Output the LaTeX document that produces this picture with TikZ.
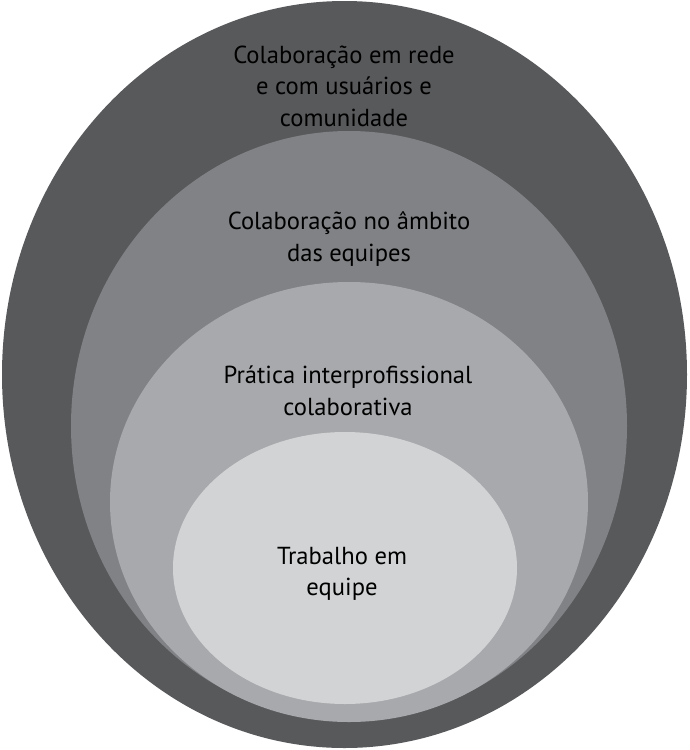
\documentclass[tikz,border=0pt]{standalone}
\usepackage{fontspec}
\setmainfont{PT Sans}
\usetikzlibrary{shapes.geometric}
\definecolor{g80}{HTML}{58595B}
\definecolor{g60}{HTML}{808285}
\definecolor{g40}{HTML}{A7A9AC}
\definecolor{g20}{HTML}{D1D3D4}
\tikzset{
  ring/.style={ellipse, inner sep=0pt, outer sep=0pt, draw=none},
  lbl/.style={align=center, font=\fontsize{24.6}{31.5}\selectfont, text=black, inner sep=0pt}
}
\begin{document}
\begin{tikzpicture}[x=1pt,y=-1pt]
\useasboundingbox (0,0) rectangle (689,750);
\node[ring, fill=g80, minimum width=685pt, minimum height=747pt] (e1) at (344.5,374.5) {};
\node[ring, fill=g60, minimum width=556pt, minimum height=590pt] (e2) at (349,426) {};
\node[ring, fill=g40, minimum width=478pt, minimum height=440pt] (e3) at (349,502) {};
\node[ring, fill=g20, minimum width=344pt, minimum height=272pt] (e4) at (345,568) {};
\node[lbl] (t1) at (344,86) {Colaboração em rede\\e com usuários e\\comunidade};
\node[lbl] (t2) at (349,239) {Colaboração no âmbito\\das equipes};
\node[lbl] (t3) at (348,391) {Prática interprofissional\\colaborativa};
\node[lbl] (t4) at (342,574) {Trabalho em\\equipe};
\end{tikzpicture}
\end{document}
